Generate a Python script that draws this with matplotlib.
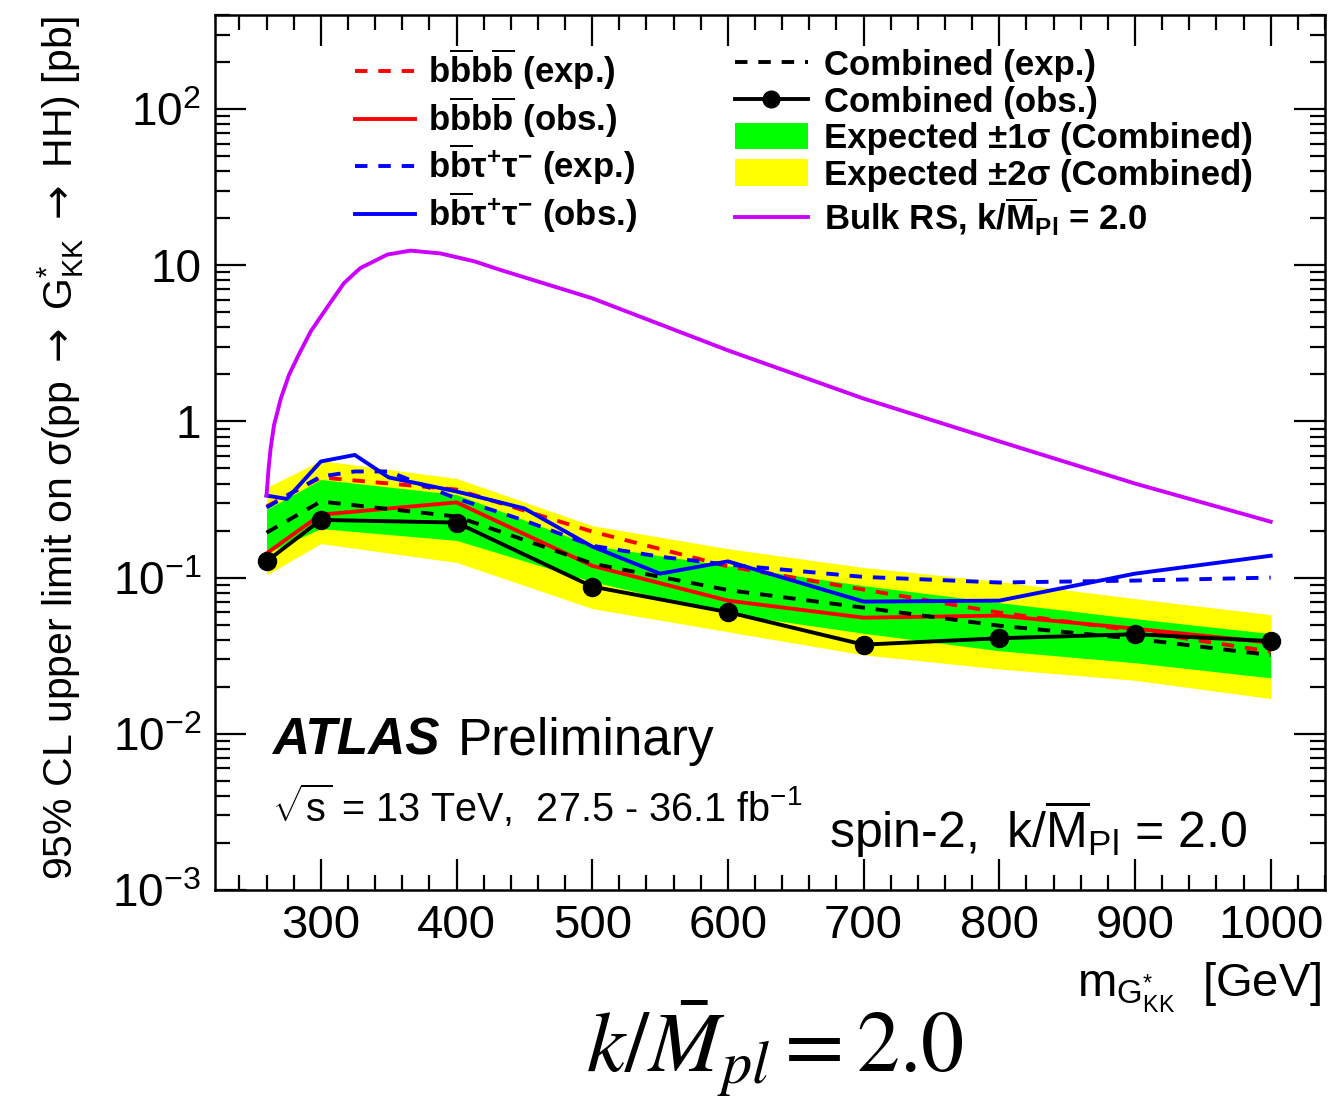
import matplotlib.pyplot as plt
from matplotlib.ticker import MultipleLocator, LogLocator, FixedLocator, FixedFormatter, NullFormatter
from matplotlib.lines import Line2D
from matplotlib.patches import Patch

plt.rcParams['font.family'] = ['Liberation Sans', 'DejaVu Sans']
plt.rcParams['mathtext.fontset'] = 'custom'
plt.rcParams['mathtext.rm'] = 'Liberation Sans'
plt.rcParams['mathtext.it'] = 'Liberation Sans:italic'
plt.rcParams['mathtext.bf'] = 'Liberation Sans:bold'
plt.rcParams['mathtext.sf'] = 'DejaVu Sans'

# Combined limits (pb)
mass = [260, 300, 400, 500, 600, 700, 800, 900, 1000]
comb_obs = [0.127, 0.234, 0.225, 0.0876, 0.0601, 0.0372, 0.0409, 0.0434, 0.0392]
comb_exp = [0.194, 0.307, 0.246, 0.123, 0.0832, 0.0642, 0.0492, 0.0406, 0.0319]
band1_up = [0.273, 0.425, 0.340, 0.160, 0.119, 0.0888, 0.0691, 0.0546, 0.0438]
band1_dn = [0.143, 0.206, 0.173, 0.0943, 0.0588, 0.0440, 0.0340, 0.0285, 0.0228]
band2_up = [0.377, 0.562, 0.431, 0.215, 0.153, 0.116, 0.0943, 0.0733, 0.0579]
band2_dn = [0.104, 0.165, 0.125, 0.0633, 0.0450, 0.0320, 0.0260, 0.0220, 0.0168]

# bbbb channel
bbbb_obs = [0.143, 0.253, 0.303, 0.119, 0.0712, 0.0554, 0.0571, 0.0471, 0.0383]
bbbb_exp = [0.285, 0.438, 0.366, 0.197, 0.118, 0.0838, 0.0597, 0.0457, 0.0336]

# bbtautau channel
mass_bbtt = [260, 275, 300, 325, 350, 400, 450, 500, 550, 600, 700, 800, 900, 1000]
bbtt_obs = [0.335, 0.319, 0.554, 0.610, 0.438, 0.356, 0.277, 0.158, 0.106, 0.127,
            0.0702, 0.0712, 0.106, 0.138]
bbtt_exp = [0.281, 0.335, 0.444, 0.478, 0.478, 0.321, 0.232, 0.160, 0.136, 0.121,
            0.101, 0.093, 0.0957, 0.100]

# Bulk RS graviton cross section, k/Mpl = 2.0
mass_rs = [260, 261.5, 263, 265.5, 270.5, 276.5, 283, 292.5, 305, 317, 329, 349,
           366, 388, 413, 432, 500, 600, 700, 800, 900, 1000]
xsec_rs = [0.336, 0.50, 0.671, 0.946, 1.40, 1.98, 2.60, 3.76, 5.43, 7.67, 9.57, 11.7,
           12.4, 11.9, 10.6, 9.35, 6.14, 2.85, 1.40, 0.745, 0.40, 0.228]

ytick_vals = [1e-3, 1e-2, 1e-1, 1, 10, 100]
ytick_text = [r'$10^{-3}$', r'$10^{-2}$', r'$10^{-1}$', '1', '10', r'$10^{2}$']

fig = plt.figure(figsize=(13.42, 11.02), dpi=100)
ax = fig.add_axes([0.1602, 0.1924, 0.8271, 0.7940])

lw = 2.8
dash = (0, (3.2, 2.8))
ax.fill_between(mass, band2_dn, band2_up, color='#ffff00', lw=0, zorder=1)
ax.fill_between(mass, band1_dn, band1_up, color='#00ff00', lw=0, zorder=2)
ax.plot(mass, bbbb_exp, color='red', ls=dash, lw=lw, zorder=3)
ax.plot(mass, bbbb_obs, color='red', lw=lw, zorder=3)
ax.plot(mass_bbtt, bbtt_exp, color='blue', ls=dash, lw=lw, zorder=3)
ax.plot(mass_bbtt, bbtt_obs, color='blue', lw=lw, zorder=3)
ax.plot(mass, comb_exp, color='black', ls=dash, lw=lw, zorder=4)
ax.plot(mass, comb_obs, color='black', lw=lw, marker='o', ms=13, zorder=5)
ax.plot(mass_rs, xsec_rs, color='#cc00ff', lw=lw, zorder=4)

ax.set_yscale('log')
ax.set_xlim(222, 1040)
ax.set_ylim(1e-3, 400)

ax.xaxis.set_major_locator(MultipleLocator(100))
ax.xaxis.set_minor_locator(MultipleLocator(20))
ax.yaxis.set_major_locator(FixedLocator(ytick_vals))
ax.yaxis.set_major_formatter(FixedFormatter(ytick_text))
ax.yaxis.set_minor_locator(LogLocator(base=10, subs=range(2, 10), numticks=20))
ax.yaxis.set_minor_formatter(NullFormatter())
ax.tick_params(which='both', direction='in', top=True, right=True, width=1.6)
ax.tick_params(which='major', length=22)
ax.tick_params(which='minor', length=11)
ax.tick_params(axis='x', labelsize=34, pad=10)
ax.tick_params(axis='y', labelsize=33, pad=10)
for sp in ax.spines.values():
    sp.set_linewidth(1.8)

# legends
left_handles = [
    Line2D([], [], color='red', ls=dash, lw=lw),
    Line2D([], [], color='red', lw=lw),
    Line2D([], [], color='blue', ls=dash, lw=lw),
    Line2D([], [], color='blue', lw=lw),
]
left_labels = [
    r'$\mathbf{b}\overline{\mathbf{b}}\mathbf{b}\overline{\mathbf{b}}$ (exp.)',
    r'$\mathbf{b}\overline{\mathbf{b}}\mathbf{b}\overline{\mathbf{b}}$ (obs.)',
    r'$\mathbf{b}\overline{\mathbf{b}}$τ$^{\mathbf{+}}$τ$^{\mathbf{-}}$ (exp.)',
    r'$\mathbf{b}\overline{\mathbf{b}}$τ$^{\mathbf{+}}$τ$^{\mathbf{-}}$ (obs.)',
]
leg1 = ax.legend(left_handles, left_labels, loc='upper left',
                 bbox_to_anchor=(0.126, 0.964), frameon=False,
                 prop=dict(weight='bold', size=25), handlelength=1.73,
                 handletextpad=0.37, labelspacing=0.06, borderpad=0,
                 borderaxespad=0)
ax.add_artist(leg1)

right_handles = [
    Line2D([], [], color='black', ls=dash, lw=lw),
    Line2D([], [], color='black', lw=lw, marker='o', ms=12),
    Patch(facecolor='#00ff00', edgecolor='none'),
    Patch(facecolor='#ffff00', edgecolor='none'),
    Line2D([], [], color='#cc00ff', lw=lw),
]
right_labels = [
    'Combined (exp.)',
    'Combined (obs.)',
    'Expected ±1σ (Combined)',
    'Expected ±2σ (Combined)',
    r'Bulk RS, k/$\overline{\mathbf{M}}_{\mathbf{Pl}}$ = 2.0',
]
ax.legend(right_handles, right_labels, loc='upper left',
          bbox_to_anchor=(0.4685, 0.961), frameon=False,
          prop=dict(weight='bold', size=25), handlelength=2.1,
          handletextpad=0.46, labelspacing=0.1, borderpad=0,
          borderaxespad=0, handleheight=0.8)

# labels
ax.text(0.0514, 0.1543, 'ATLAS', transform=ax.transAxes, fontsize=37,
        fontweight='bold', fontstyle='italic', va='baseline')
ax.text(0.219, 0.1543, 'Preliminary', transform=ax.transAxes, fontsize=37,
        va='baseline')
ax.text(0.0514, 0.0777, r'$\sqrt{\mathrm{s}}$ = 13 TeV,  27.5 - 36.1 fb$^{\mathrm{-1}}$',
        transform=ax.transAxes, fontsize=28.5, va='baseline')
ax.text(0.553, 0.048, r'spin-2,  k/$\overline{\mathrm{M}}_{\mathrm{Pl}}$ = 2.0',
        transform=ax.transAxes, fontsize=36, va='baseline')

fig.text(0.045, 0.986,
         r'95% CL upper limit on σ(pp $\mathsf{\rightarrow}$ G$^{*}_{\mathrm{KK}}$ '
         r'$\mathsf{\rightarrow}$ HH) [pb]',
         rotation=90, ha='center', va='top', fontsize=29.5)
fig.text(0.985, 0.0953, r'm$_{\mathrm{G}^{*}_{\mathrm{KK}}}$  [GeV]', ha='right',
         va='baseline', fontsize=34)
fig.text(0.5775, 0.027, r'$k/\bar{M}_{pl} = 2.0$', ha='center', va='baseline',
         fontsize=62, math_fontfamily='stix')

fig.savefig('out.png', dpi=100)
